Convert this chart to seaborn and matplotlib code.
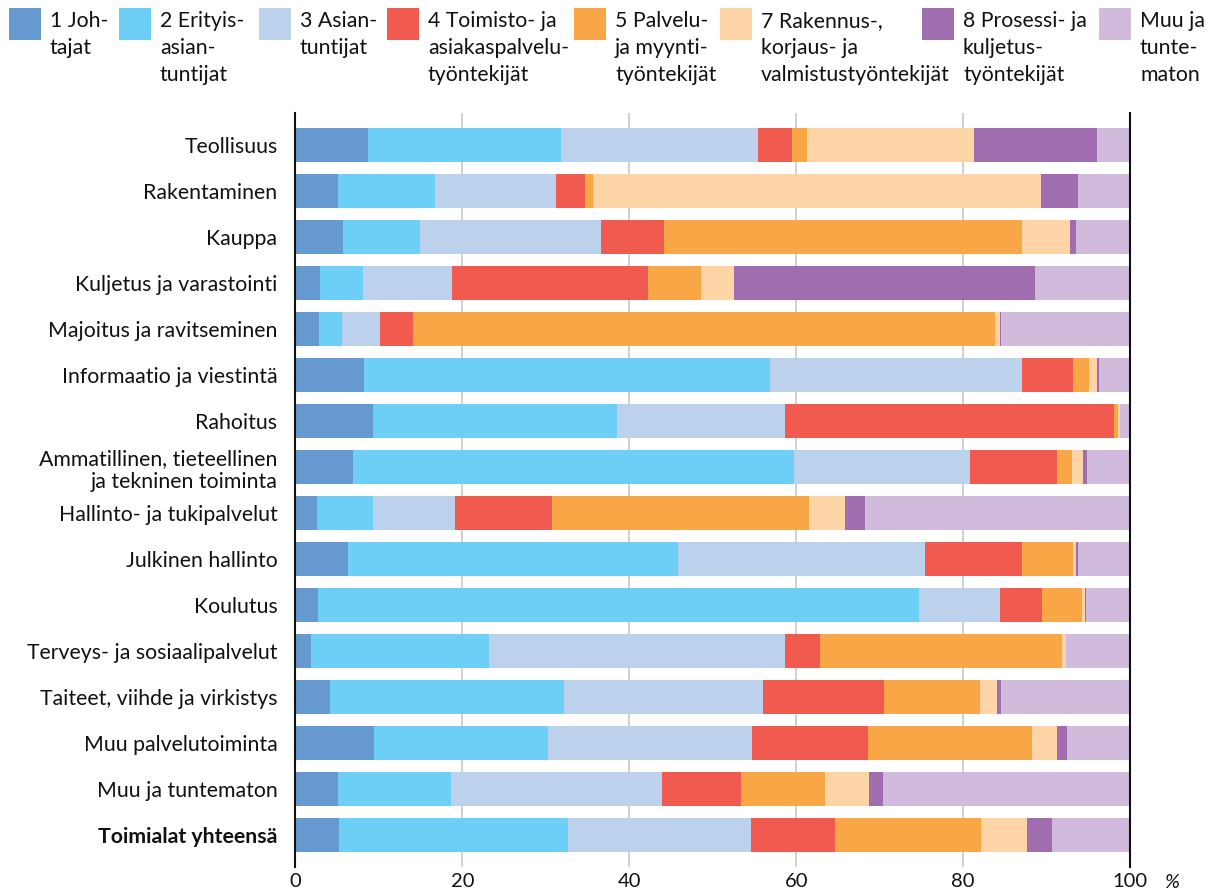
import numpy as np
import pandas as pd
import seaborn as sns
import matplotlib.pyplot as plt
from matplotlib.patches import Rectangle

# toimialat (ylhäältä alas)
categories = [
    "Teollisuus", "Rakentaminen", "Kauppa", "Kuljetus ja varastointi",
    "Majoitus ja ravitseminen", "Informaatio ja viestintä", "Rahoitus",
    "Ammatillinen, tieteellinen\nja tekninen toiminta", "Hallinto- ja tukipalvelut",
    "Julkinen hallinto", "Koulutus", "Terveys- ja sosiaalipalvelut",
    "Taiteet, viihde ja virkistys", "Muu palvelutoiminta", "Muu ja tuntematon",
    "Toimialat yhteensä",
]

series_labels = [
    "1 Joh-\ntajat",
    "2 Erityis-\nasian-\ntuntijat",
    "3 Asian-\ntuntijat",
    "4 Toimisto- ja\nasiakaspalvelu-\ntyöntekijät",
    "5 Palvelu-\nja myynti-\ntyöntekijät",
    "7 Rakennus-,\nkorjaus- ja\nvalmistustyöntekijät",
    "8 Prosessi- ja\nkuljetus-\ntyöntekijät",
    "Muu ja\ntunte-\nmaton",
]

johtajat = [8.7, 5.1, 5.7, 2.9, 2.8, 8.2, 9.3, 6.9, 2.6, 6.3, 2.7, 1.9, 4.1, 9.4, 5.1, 5.2]
erityis = [23.1, 11.6, 9.2, 5.2, 2.8, 48.7, 29.2, 52.8, 6.7, 39.5, 72.0, 21.3, 28.1, 20.8, 13.5, 27.4]
asian = [23.6, 14.5, 21.7, 10.6, 4.5, 30.1, 20.1, 21.1, 9.8, 29.6, 9.7, 35.5, 23.8, 24.5, 25.3, 22.0]
toimisto = [4.1, 3.5, 7.5, 23.5, 4.0, 6.2, 39.5, 10.5, 11.6, 11.6, 5.0, 4.2, 14.5, 13.9, 9.5, 10.0]
palvelu = [1.8, 1.0, 43.0, 6.4, 69.7, 1.9, 0.5, 1.8, 30.8, 6.2, 4.9, 29.0, 11.5, 19.7, 10.1, 17.5]
rakennus = [20.0, 53.6, 5.7, 4.0, 0.6, 1.0, 0.2, 1.3, 4.4, 0.3, 0.3, 0.4, 2.1, 2.9, 5.2, 5.5]
prosessi = [14.8, 4.5, 0.7, 36.0, 0.2, 0.2, 0.0, 0.4, 2.3, 0.3, 0.1, 0.0, 0.4, 1.3, 1.7, 3.1]
muu = [3.9, 6.2, 6.5, 11.4, 15.4, 3.7, 1.2, 5.2, 31.8, 6.2, 5.3, 7.7, 15.5, 7.5, 29.6, 9.3]

colors = ["#6699D0", "#6DCFF6", "#BBD1EC", "#F15B4F",
          "#F9A746", "#FDD4A5", "#A06EAF", "#D1BBDD"]

x_ticks = [0, 20, 40, 60, 80, 100]

sns.set_style("white")
plt.rcParams["font.family"] = ["Lato", "DejaVu Sans"]
plt.rcParams["text.color"] = "#111111"

df = pd.DataFrame(
    [johtajat, erityis, asian, toimisto, palvelu, rakennus, prosessi, muu],
    index=series_labels, columns=categories,
).T
cum = df.cumsum(axis=1)

fig = plt.figure(figsize=(12.14, 8.94), dpi=100)
ax = fig.add_axes([0.2434, 0.0302, 0.6874, 0.8434])

# pinotut palkit: piirretään kumulatiiviset summat suurimmasta pienimpään
for i in range(len(series_labels) - 1, -1, -1):
    sns.barplot(
        x=cum.iloc[:, i].values,
        y=categories,
        color=colors[i],
        saturation=1,
        width=0.74,
        linewidth=0,
        ax=ax,
    )

ax.set_xlim(0, 100)
ax.set_ylim(15.7, -0.7)
ax.set_xticks(x_ticks)
ax.set_xlabel("")
ax.set_ylabel("")
ax.grid(axis="x", color="#C8C8C8", linewidth=1.2)
ax.grid(axis="y", visible=False)
ax.set_axisbelow(True)

for side in ["top", "bottom"]:
    ax.spines[side].set_visible(False)
for side in ["left", "right"]:
    ax.spines[side].set_color("#111111")
    ax.spines[side].set_linewidth(1.5)

ax.tick_params(axis="x", length=0, pad=4, labelsize=14.5, colors="#111111")
ax.tick_params(axis="y", length=0, pad=13, labelsize=15.3, colors="#111111")
ax.get_yticklabels()[-1].set_fontweight("bold")

fig.text(1172 / 1214, 12 / 894, "%", fontsize=14.5, style="italic",
         ha="center", va="center")

# selite
leg_x = [9, 119, 259, 387, 574, 720, 922, 1099]
W, H = 1214, 894
for x0, lab, c in zip(leg_x, series_labels, colors):
    fig.add_artist(Rectangle((x0 / W, 1 - 40 / H), 32 / W, 32 / H,
                             transform=fig.transFigure, color=c, lw=0))
    fig.text((x0 + 41) / W, 1 - 11 / H, lab, fontsize=15.3,
             ha="left", va="top", linespacing=1.45)

fig.savefig("out.png", dpi=100)
